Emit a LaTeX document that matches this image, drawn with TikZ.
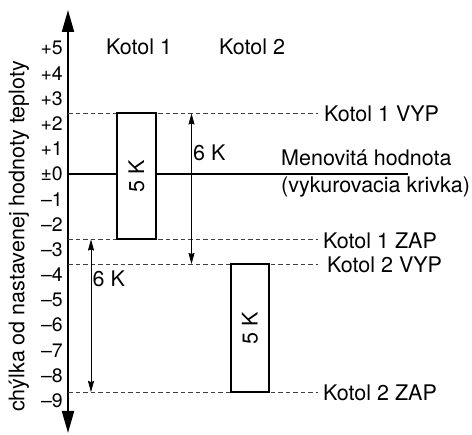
\documentclass[tikz,border=0pt]{standalone}
\usepackage{fontspec}
\setmainfont{TeX Gyre Heros}
\usetikzlibrary{arrows.meta}
\begin{document}
\begin{tikzpicture}[x=1pt,y=-1pt,
  lbl/.style={font=\fontsize{21.5}{24}\selectfont, inner sep=0pt},
  ticklbl/.style={font=\fontsize{19.5}{22}\selectfont, anchor=east, inner sep=0pt},
  dline/.style={draw=black!75, line width=0.8pt, dash pattern=on 4.5pt off 3pt},
  kbox/.style={draw, line width=1.7pt, fill=white, inner sep=0pt},
  dimarrow/.style={line width=0.7pt, {Stealth[length=11pt,width=6pt,inset=1pt]}-{Stealth[length=11pt,width=6pt,inset=1pt]}}
]
\useasboundingbox (0,0) rectangle (472,435);

% axis
\coordinate (atop) at (68,10);
\coordinate (abot) at (68,433);
\draw[line width=2pt, {Triangle[length=22pt,width=12pt]}-{Triangle[length=22pt,width=12pt]}] (abot) -- (atop);

% axis label
\node[lbl, rotate=90] (ylab) at (19,236.5) {chýlka od nastavenej hodnoty teploty};

% tick labels
\foreach \v/\t [count=\i] in {5/+5,4/+4,3/+3,2/+2,1/+1,0/±0,-1/–1,-2/–2,-3/–3,-4/–4,-5/–5,-6/–6,-7/–7,-8/–8,-9/–9}
  \node[ticklbl] (tick\i) at (63,{174-25.2*\v}) {\t};

% headers
\node[lbl, anchor=west] (h1) at (106,47) {Kotol 1};
\node[lbl, anchor=west] (h2) at (219,47) {Kotol 2};

% right labels
\node[lbl, anchor=west] (k1v) at (324,113.5) {Kotol 1 VYP};
\node[lbl, anchor=west] (k1z) at (323,240.5) {Kotol 1 ZAP};
\node[lbl, anchor=west] (k2v) at (327,265) {Kotol 2 VYP};
\node[lbl, anchor=west] (k2z) at (323,392.5) {Kotol 2 ZAP};

% dashed lines
\coordinate (d1) at (68,113.5);
\coordinate (d2) at (68,239.5);
\coordinate (d3) at (68,264);
\coordinate (d4) at (68,392);
\draw[dline] (d1) -- (d1 -| {318,0});
\draw[dline] (d2) -- (d2 -| {318,0});
\draw[dline] (d3) -- (d3 -| {318,0});
\draw[dline] (d4) -- (d4 -| {318,0});

% nominal value line
\coordinate (z0) at (68,174);
\coordinate (z1) at (408,174);
\draw[line width=2pt] (z0) -- (z1);
\node[lbl, anchor=base west] (men) at (281,166) {Menovitá hodnota};
\node[lbl, anchor=base west] (vyk) at (281,193) {(vykurovacia krivka)};

% boxes
\node[kbox, minimum width=39pt, minimum height=126pt] (b1) at (136.5,176) {};
\node[lbl, rotate=90] (b1t) at (b1.center) {5 K};
\node[kbox, minimum width=38pt, minimum height=128pt] (b2) at (250,328) {};
\node[lbl, rotate=90] (b2t) at (b2.center) {5 K};

% dimension arrows
\coordinate (a1t) at (191.5,113.5);
\coordinate (a1b) at (191.5,264);
\draw[dimarrow] (a1t) -- (a1b);
\node[lbl, anchor=west] (a1l) at (193,153) {6 K};
\coordinate (a2t) at (91,239.5);
\coordinate (a2b) at (91,392);
\draw[dimarrow] (a2t) -- (a2b);
\node[lbl, anchor=west] (a2l) at (92.5,279) {6 K};
\end{tikzpicture}
\end{document}
